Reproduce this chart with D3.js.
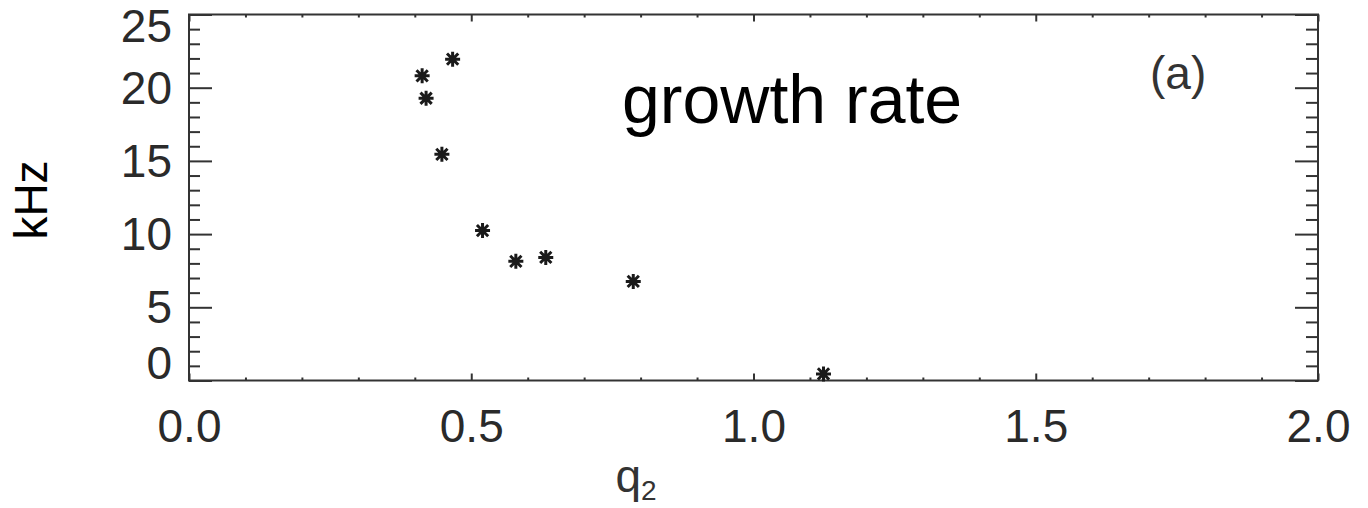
<!DOCTYPE html>
<html>
<head>
<meta charset="utf-8">
<script src="https://cdn.jsdelivr.net/npm/d3@7"></script>
<style>
  html, body { margin: 0; padding: 0; background: #fff; }
  svg { display: block; }
  text { font-family: "Liberation Sans", Arial, sans-serif; }
</style>
</head>
<body>
<svg id="chart" width="1368" height="508"></svg>
<script>
// Data
const q2Values = [0.467, 0.413, 0.420, 0.448, 0.520, 0.579, 0.632, 0.787, 1.124];
const growthKHz = [21.95, 20.81, 19.28, 15.45, 10.24, 8.14, 8.41, 6.77, 0.45];
const xMajorTicks = [0.0, 0.5, 1.0, 1.5, 2.0];
const yMajorTicks = [0, 5, 10, 15, 20, 25];
const xTickLabels = ["0.0", "0.5", "1.0", "1.5", "2.0"];
const yTickLabels = ["0", "5", "10", "15", "20", "25"];

const svg = d3.select("#chart");
const L = 189, R = 1318, T = 14.5, B = 380.5;

const x = d3.scaleLinear().domain([0, 2]).range([L, R]);
const y = d3.scaleLinear().domain([0, 25]).range([B, T]);

const axisColor = "#333";
const textColor = "#2a2a2a";

// Minor ticks
const xMinor = d3.range(0, 2.0001, 0.1).map(v => +v.toFixed(1)).filter(v => !xMajorTicks.includes(v));
const yMinor = d3.range(0, 26, 1).filter(v => !yMajorTicks.includes(v));

function styleAxis(g) {
  g.select(".domain").remove();
  g.selectAll(".tick line").attr("stroke", axisColor).attr("stroke-width", 2);
  g.selectAll(".tick text").attr("fill", textColor).attr("font-size", 46)
    .attr("font-family", '"Liberation Sans", Arial, sans-serif');
}

// Left axis
svg.append("g").attr("transform", `translate(${L},0)`)
  .call(d3.axisLeft(y).tickValues(yMinor).tickSize(-11).tickFormat(""))
  .call(styleAxis);
const leftMajor = svg.append("g").attr("transform", `translate(${L},0)`)
  .call(d3.axisLeft(y).tickValues(yMajorTicks).tickSize(-23).tickPadding(17)
        .tickFormat((d, i) => yTickLabels[i]))
  .call(styleAxis);
// End labels are nudged inward in the original
leftMajor.selectAll(".tick text")
  .attr("dy", d => d === 25 ? "0.58em" : d === 0 ? "-0.04em" : "0.34em");

// Right axis
svg.append("g").attr("transform", `translate(${R},0)`)
  .call(d3.axisRight(y).tickValues(yMinor).tickSize(-12).tickFormat(""))
  .call(styleAxis);
svg.append("g").attr("transform", `translate(${R},0)`)
  .call(d3.axisRight(y).tickValues(yMajorTicks).tickSize(-23).tickFormat(""))
  .call(styleAxis);

// Bottom axis
svg.append("g").attr("transform", `translate(0,${B})`)
  .call(d3.axisBottom(x).tickValues(xMinor).tickSize(-3).tickFormat(""))
  .call(styleAxis);
svg.append("g").attr("transform", `translate(0,${B})`)
  .call(d3.axisBottom(x).tickValues(xMajorTicks).tickSize(-7).tickPadding(29)
        .tickFormat((d, i) => xTickLabels[i]))
  .call(styleAxis);

// Top axis
svg.append("g").attr("transform", `translate(0,${T})`)
  .call(d3.axisTop(x).tickValues(xMinor).tickSize(-3).tickFormat(""))
  .call(styleAxis);
svg.append("g").attr("transform", `translate(0,${T})`)
  .call(d3.axisTop(x).tickValues(xMajorTicks).tickSize(-7).tickFormat(""))
  .call(styleAxis);

// Frame
svg.append("rect")
  .attr("x", L).attr("y", T).attr("width", R - L).attr("height", B - T)
  .attr("fill", "none").attr("stroke", axisColor).attr("stroke-width", 2);

// Asterisk markers
const r = 7.5;
const star = `M${-r},0L${r},0M0,${-r}L0,${r}M${-r*0.75},${-r*0.75}L${r*0.75},${r*0.75}M${-r*0.75},${r*0.75}L${r*0.75},${-r*0.75}`;
svg.append("g").selectAll("path.pt")
  .data(q2Values.map((v, i) => ({ q: v, g: growthKHz[i] })))
  .join("path")
  .attr("class", "pt")
  .attr("transform", d => `translate(${x(d.q)},${y(d.g)})`)
  .attr("d", star)
  .attr("fill", "none")
  .attr("stroke", "#1a1a1a")
  .attr("stroke-width", 3);

// Annotation texts
svg.append("text").attr("x", 622).attr("y", 123)
  .attr("font-size", 68).attr("fill", "#000").text("growth rate");

svg.append("text").attr("x", 1150).attr("y", 89)
  .attr("font-size", 46).attr("fill", "#333").text("(a)");

// Axis titles
svg.append("text")
  .attr("transform", "translate(47,200) rotate(-90)")
  .attr("text-anchor", "middle")
  .attr("font-size", 46).attr("fill", "#000").text("kHz");

const xt = svg.append("text").attr("x", 636).attr("y", 492)
  .attr("text-anchor", "middle").attr("font-size", 46).attr("fill", "#333");
xt.append("tspan").text("q");
xt.append("tspan").attr("font-size", 28).attr("dy", 8).text("2");
</script>
</body>
</html>
